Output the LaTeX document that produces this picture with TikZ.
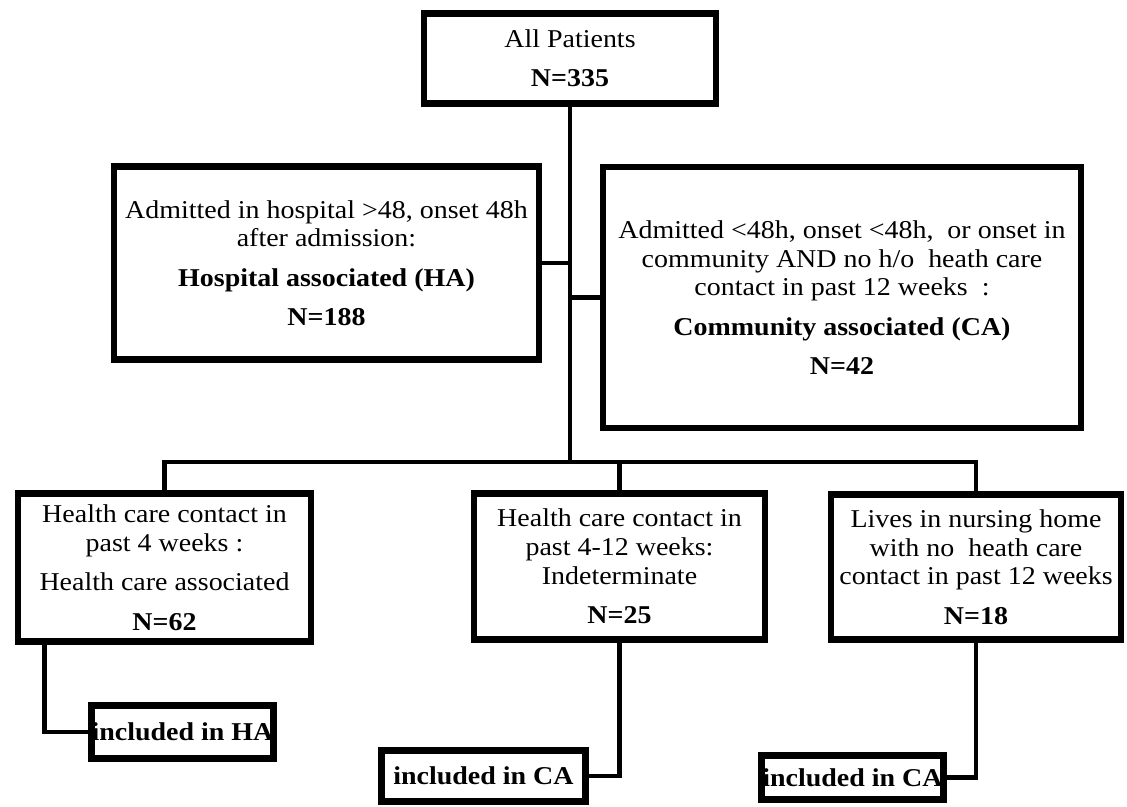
\documentclass[tikz,border=0pt]{standalone}
\usepackage{fontspec}
\setmainfont{Liberation Serif}[FakeStretch=1.09]
\usetikzlibrary{calc,shadows}

\begin{document}
\begin{tikzpicture}[x=0.02cm, y=-0.02cm,
    box/.style={draw, line width=3.7pt, fill=white, align=center, inner sep=0pt,
        font=\fontsize{14.6pt}{16.4pt}\selectfont,
        drop shadow={opacity=0.2, shadow xshift=0.8pt, shadow yshift=-1.4pt}},
    smallbox/.style={box, font=\fontsize{14.6pt}{16.4pt}\selectfont\bfseries},
    link/.style={line width=2.7pt}]
    \useasboundingbox (0,0) rectangle (1127,806);

    % Top box
    \node[box, minimum width=166.4pt, minimum height=51.3pt] (all) at (570,58.5)
        {All Patients\\[6pt]\textbf{N=335}};

    % HA and CA boxes
    \node[box, minimum width=241.8pt, minimum height=109.7pt] (ha) at (326.5,263)
        {Admitted in hospital >48, onset 48h\\after admission:\\[6pt]
         \textbf{Hospital associated (HA)}\\[6pt]\textbf{N=188}};
    \node[box, minimum width=271.8pt, minimum height=148.8pt] (ca) at (842,297.5)
        {Admitted <48h, onset <48h,\ \ or onset in\\community AND no h/o\ \ heath care\\
         contact in past 12 weeks\ \ :\\[6pt]
         \textbf{Community associated (CA)}\\[6pt]\textbf{N=42}};

    % Second row
    \node[box, minimum width=167pt, minimum height=84.2pt] (hca) at (164.5,567.5)
        {Health care contact in\\past 4 weeks :\\[6pt]Health care associated\\[6pt]\textbf{N=62}};
    \node[box, minimum width=165.8pt, minimum height=83.1pt] (ind) at (619.5,566.5)
        {Health care contact in\\past 4-12 weeks:\\Indeterminate\\[6pt]\textbf{N=25}};
    \node[box, minimum width=165.3pt, minimum height=82.5pt] (nh) at (976,567)
        {Lives in nursing home\\with no\ \ heath care\\contact in past 12 weeks\\[6pt]\textbf{N=18}};

    % Included boxes
    \node[smallbox, minimum width=103.5pt, minimum height=30.3pt] (inha) at (182.5,732) {included in HA};
    \node[smallbox, minimum width=115.9pt, minimum height=29.2pt] (inca1) at (483.5,776) {included in CA};
    \node[smallbox, minimum width=103.5pt, minimum height=25.2pt] (inca2) at (852.5,777.5) {included in CA};

    % Connectors
    \coordinate (bus) at (570,462);
    \draw[link] (all.south) -- (bus);
    \draw[link] (ha.east) -- (ha.east -| bus);
    \draw[link] (ca.west) -- (ca.west -| bus);
    \draw[link] (hca.north) |- (bus) -| (nh.north);
    \draw[link] (ind.north) -- (ind.north |- bus);
    \draw[link] ($(hca.south west)+(30,0)$) |- (inha.west);
    \draw[link] (ind.south) |- (inca1.east);
    \draw[link] (nh.south) |- (inca2.east);
\end{tikzpicture}
\end{document}
